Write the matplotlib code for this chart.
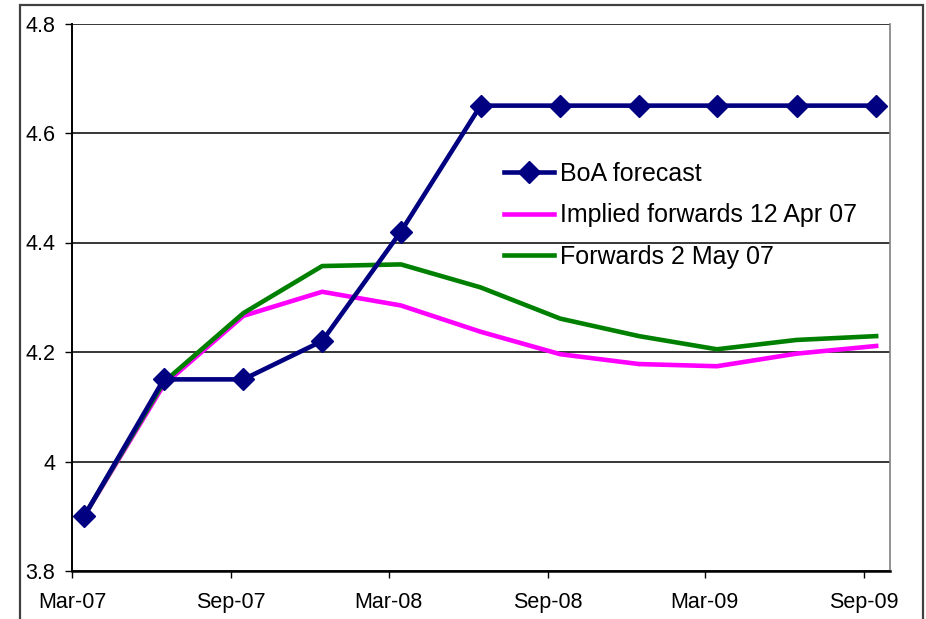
import matplotlib
matplotlib.use("Agg")
import matplotlib.pyplot as plt
import matplotlib.dates as mdates
from matplotlib.patches import Rectangle
import pandas as pd

plt.rcParams['font.family'] = ['Liberation Sans', 'DejaVu Sans']

# Quarterly observation dates (mid-month, starting March 2007)
dates = pd.date_range("2007-03-01", periods=11, freq="3MS") + pd.Timedelta(days=14)

boa_forecast = [3.90, 4.15, 4.15, 4.22, 4.42, 4.65, 4.65, 4.65, 4.65, 4.65, 4.65]
implied_fwd_12apr = [3.90, 4.14, 4.266, 4.31, 4.285, 4.237, 4.196, 4.178, 4.174, 4.197, 4.211]
fwd_2may = [3.90, 4.145, 4.271, 4.357, 4.360, 4.318, 4.261, 4.229, 4.205, 4.222, 4.229]

y_ticks = [3.8, 4.0, 4.2, 4.4, 4.6, 4.8]
y_tick_labels = ["3.8", "4", "4.2", "4.4", "4.6", "4.8"]

fig = plt.figure(figsize=(9.26, 6.19), dpi=100)
ax = fig.add_axes([72 / 926, 48 / 619, 818 / 926, 547.5 / 619])

# Outer chart frame
fig.patches.append(Rectangle((20 / 926, -0.05), 903 / 926, 1.042, transform=fig.transFigure,
                             fill=False, edgecolor="#404040", linewidth=1.6))

l1, = ax.plot(dates, boa_forecast, color="#000080", linewidth=3.3, marker="D",
              markersize=11.5, zorder=5, label="BoA forecast")
l2, = ax.plot(dates, implied_fwd_12apr, color="#FF00FF", linewidth=3.3, zorder=3,
              label="Implied forwards 12 Apr 07")
l3, = ax.plot(dates, fwd_2may, color="#008000", linewidth=3.3, zorder=4,
              label="Forwards 2 May 07")

ax.set_ylim(3.8, 4.8)
ax.set_yticks(y_ticks)
ax.set_yticklabels(y_tick_labels)
ax.set_xlim(pd.Timestamp("2007-03-01"), pd.Timestamp("2009-10-01"))
ax.xaxis.set_major_locator(mdates.MonthLocator(bymonth=[3, 9]))
ax.xaxis.set_major_formatter(mdates.DateFormatter("%b-%y"))

ax.grid(axis="y", color="black", linewidth=1.1)
ax.set_axisbelow(True)
ax.tick_params(axis="both", labelsize=15.5, length=5, width=1, direction="out", color="black")
ax.tick_params(axis="x", pad=10)
ax.tick_params(axis="y", pad=7)

for side in ("left", "bottom"):
    ax.spines[side].set_color("black")
ax.spines["left"].set_linewidth(1.4)
ax.spines["bottom"].set_linewidth(1.8)
ax.spines["top"].set_visible(False)
ax.spines["right"].set_color("#808080")
ax.spines["right"].set_linewidth(1.2)

ax.legend(handles=[l1, l2, l3], loc="upper left", bbox_to_anchor=(0.516, 0.766),
          frameon=False, fontsize=18, handlelength=2.0, handletextpad=0.25,
          labelspacing=0.71, borderaxespad=0)

fig.savefig("out.png", dpi=100)
